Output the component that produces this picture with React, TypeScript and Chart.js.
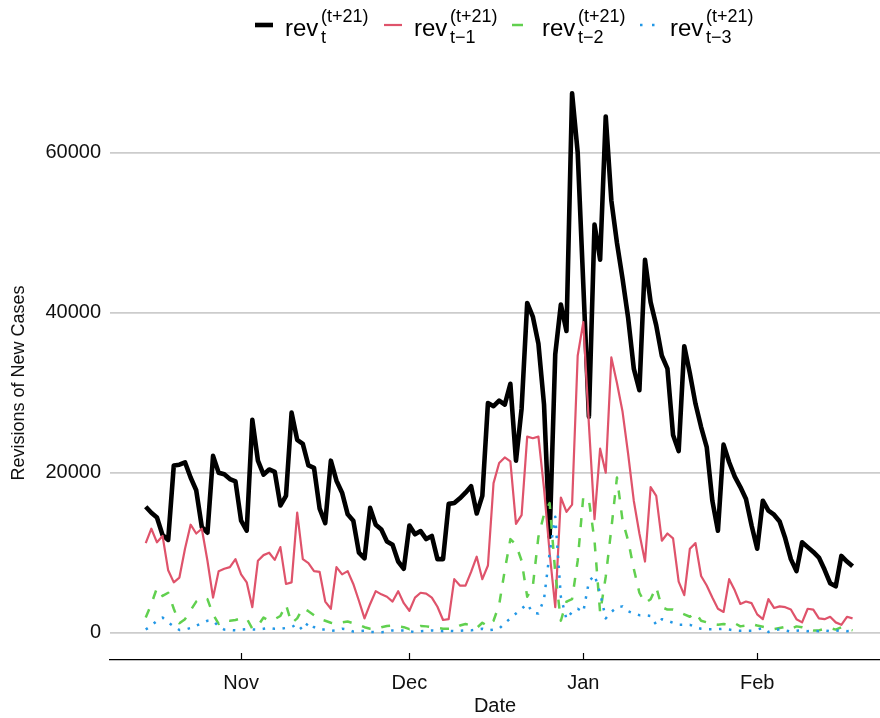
import React, { useEffect, useRef } from "react";
import { Chart, registerables } from "chart.js";

Chart.register(...registerables);

// ---- data -------------------------------------------------------------
const START_DATE = "2020-10-15"; // first daily observation
const MONTH_TICK_DATES = ["2020-11-01", "2020-12-01", "2021-01-01", "2021-02-01"];
const MONTH_TICK_LABELS = ["Nov", "Dec", "Jan", "Feb"];
const Y_TICKS = [0, 20000, 40000, 60000];

const revT = [
  15750, 15000, 14400, 12200, 11600, 20900, 21000, 21300, 19400, 17800,
  13200, 12500, 22100, 20000, 19800, 19200, 18900, 14000, 12750, 26600,
  21500, 19750, 20400, 20100, 15900, 17100, 27500, 24100, 23600, 20900,
  20600, 15500, 13700, 21500, 19000, 17500, 14800, 14000, 10000, 9300,
  15600, 13500, 12900, 11400, 11000, 8900, 8000, 13400, 12300, 12700,
  11700, 12100, 9200, 9200, 16100, 16200, 16800, 17500, 18300, 14900,
  17100, 28700, 28300, 29000, 28500, 31100, 21500, 28000, 41200, 39500,
  36100, 28500, 12000, 34800, 41000, 37700, 67400, 60000, 43500, 27000,
  51000, 46600, 64500, 54000, 48700, 44200, 39300, 33000, 30300, 46600,
  41300, 38400, 34600, 33000, 24700, 22700, 35800, 32400, 28600, 25700,
  23200, 16500, 12750, 23500, 21300, 19500, 18200, 16700, 13400, 10500,
  16500, 15250, 14750, 13900, 11800, 9200, 7700, 11300, 10700, 10100,
  9400, 7900, 6200, 5800, 9600, 8900, 8300,
];

const revT1 = [
  11200, 13000, 11300, 12100, 7800, 6300, 6900, 10500, 13500, 12400,
  13000, 9000, 4400, 7700, 8000, 8200, 9200, 7300, 6300, 3200,
  9000, 9700, 10000, 9100, 10700, 6100, 6300, 15000, 9200, 8700,
  7700, 7600, 3900, 3000, 8200, 7300, 7700, 6100, 4000, 1800,
  3600, 5200, 4800, 4500, 3900, 5200, 3700, 2750, 4400, 5000,
  4900, 4400, 3250, 1600, 1700, 6700, 5900, 5900, 7600, 9500,
  6700, 8400, 18700, 21200, 21900, 21400, 13600, 14700, 24500, 24300,
  24500, 18000, 10000, 3200, 16900, 15100, 16000, 34600, 38800, 26000,
  14200, 23000, 20000, 34400, 31200, 27600, 22300, 16500, 12400, 8900,
  18200, 17100, 11500, 12400, 11800, 6400, 4700, 10500, 11200, 7100,
  5900, 4400, 3000, 2600, 6700, 5300, 3600, 3900, 3700, 2300,
  1700, 4200, 3100, 3300, 3200, 2900, 1700, 1300, 3000, 2900,
  1800, 1700, 2000, 1300, 1000, 2000, 1800,
];

const revT2 = [
  1900, 3600, 5600, 4600, 5000, 3000, 1200, 1700, 2800, 3900,
  4400, 4200, 2300, 1100, 1600, 1500, 1600, 1800, 1800, 500,
  900, 1900, 1500, 1700, 2100, 3500, 1200, 1800, 3100, 2700,
  2200, 1700, 1500, 1250, 1100, 1300, 1400, 1200, 1000, 700,
  500, 450, 700, 850, 900, 800, 700, 450, 600, 850,
  800, 700, 600, 500, 500, 500, 900, 1100, 900, 600,
  1250, 800, 1500, 3500, 7800, 11700, 11000, 9000, 4500, 5800,
  12000, 14800, 16200, 7500, 1500, 3900, 4200, 9000, 17000, 16600,
  11500, 2500, 7000, 13000, 19400, 14000, 11500, 8000, 5000, 3700,
  4200, 5700, 3200, 2900, 2900, 2600, 2300, 2000, 2500, 1500,
  1300, 1100, 1000, 1100, 1000, 1200, 800, 900, 1100, 900,
  750, 600, 460, 600, 750, 500, 800, 700, 500, 300,
  300, 500, 600, 400, 700, 500, 300,
];

const revT3 = [
  400, 900, 1500, 1900, 1300, 800, 350, 400, 600, 900,
  1200, 1500, 1500, 800, 400, 350, 300, 400, 450, 400,
  400, 500, 600, 500, 500, 600, 700, 1100, 300, 1300,
  700, 400, 400, 250, 300, 500, 400, 150, 200, 250,
  100, 80, 80, 100, 300, 300, 300, 200, 80, 200,
  250, 300, 250, 200, 250, 200, 250, 300, 300, 400,
  500, 300, 400, 500, 1200, 1800, 2400, 3000, 3600, 2500,
  2400, 4200, 10000, 14500, 4500, 1700, 2600, 3000, 2600, 6400,
  7200, 5000, 1800, 2600, 3200, 3300, 2700, 2400, 2200, 2200,
  2100, 1000, 1700, 1500, 1250, 1000, 1000, 1000, 700, 500,
  450, 450, 450, 500, 400, 300, 250, 250, 250, 400,
  600, 100, 300, 450, 300, 150, 250, 300, 200, 250,
  200, 300, 200, 250, 300, 200, 250,
];

// ---- helpers ----------------------------------------------------------
const DAY_MS = 86400000;
const ORIGIN = Date.UTC(2020, 10, 1); // Nov 1 = 0
const dayOffset = (iso: string) => (Date.parse(iso + "T00:00:00Z") - ORIGIN) / DAY_MS;
const startOffset = dayOffset(START_DATE);
const monthOffsets = MONTH_TICK_DATES.map(dayOffset);
const toPoints = (arr: number[]) => arr.map((v, i) => ({ x: startOffset + i, y: v }));

const FONT = "'Liberation Sans', Arial, Helvetica, sans-serif";
const TEXT = "#111111";
const BLACK = "#000000";
const RED = "#DF536B";
const GREEN = "#61D04F";
const BLUE = "#2297E6";

const tickMarks = {
  id: "tickMarks",
  afterDatasetsDraw(chart: any) {
    const s = chart.scales.x;
    const ctx = chart.ctx;
    const b = chart.chartArea.bottom;
    ctx.save();
    ctx.strokeStyle = "#000";
    ctx.lineWidth = 1.2;
    s.ticks.forEach((t: any) => {
      const px = Math.round(s.getPixelForValue(t.value)) + 0.5;
      ctx.beginPath();
      ctx.moveTo(px, b);
      ctx.lineTo(px, b - 7);
      ctx.stroke();
    });
    ctx.restore();
  },
};

function LegendItem({ left, sub, swatch }: { left: number; sub: string; swatch: React.ReactNode }) {
  return (
    <>
      <svg style={{ position: "absolute", left: left - 30, top: 15 }} width={24} height={20}>
        {swatch}
      </svg>
      <span style={{ position: "absolute", left, top: 15.7, fontSize: 24, lineHeight: 1, whiteSpace: "nowrap" }}>rev</span>
      <span style={{ position: "absolute", left: left + 36, top: 7, fontSize: 18, lineHeight: 1, whiteSpace: "nowrap" }}>(t+21)</span>
      <span style={{ position: "absolute", left: left + 36, top: 27.5, fontSize: 18, lineHeight: 1, whiteSpace: "nowrap" }}>{sub}</span>
    </>
  );
}

export default function App() {
  const ref = useRef<HTMLCanvasElement | null>(null);

  useEffect(() => {
    if (!ref.current) return;
    const chart = new Chart(ref.current, {
      type: "line",
      data: {
        datasets: [
          { label: "rev t-3", data: toPoints(revT3), borderColor: BLUE, borderWidth: 2.5, borderDash: [2.5, 7.5], borderCapStyle: "butt" },
          { label: "rev t-2", data: toPoints(revT2), borderColor: GREEN, borderWidth: 2.5, borderDash: [9, 11], borderCapStyle: "butt" },
          { label: "rev t-1", data: toPoints(revT1), borderColor: RED, borderWidth: 2.2 },
          { label: "rev t", data: toPoints(revT), borderColor: BLACK, borderWidth: 4.6 },
        ] as any,
      },
      options: {
        responsive: false,
        animation: false,
        devicePixelRatio: 1,
        layout: { padding: { top: 66, left: 0, right: 0, bottom: 0 } },
        plugins: { legend: { display: false }, tooltip: { enabled: false } },
        elements: {
          point: { radius: 0 },
          line: { tension: 0, borderJoinStyle: "round", fill: false },
        },
        scales: {
          x: {
            type: "linear",
            min: -23.37,
            max: 113.89,
            afterBuildTicks: (s: any) => {
              s.ticks = monthOffsets.map((v) => ({ value: v }));
            },
            afterFit: (s: any) => {
              s.height = 58;
            },
            ticks: {
              autoSkip: false,
              maxRotation: 0,
              padding: 11,
              color: TEXT,
              font: { family: FONT, size: 20 },
              callback: (_v: any, i: number) => MONTH_TICK_LABELS[i],
            },
            grid: { display: false, drawTicks: false },
            border: { display: true, color: "#000", width: 1.2 },
            title: {
              display: true,
              text: "Date",
              color: TEXT,
              font: { family: FONT, size: 20 },
              padding: { top: 0, bottom: 0 },
            },
          },
          y: {
            type: "linear",
            min: -3400,
            max: 70800,
            afterBuildTicks: (s: any) => {
              s.ticks = Y_TICKS.map((v) => ({ value: v }));
            },
            afterFit: (s: any) => {
              s.width = 110;
            },
            ticks: {
              padding: 9,
              color: TEXT,
              font: { family: FONT, size: 20 },
              callback: (v: any) => String(v),
            },
            grid: { color: "#cccccc", lineWidth: 1.8, drawTicks: false },
            border: { display: false },
            title: { display: false },
          },
        },
      } as any,
      plugins: [tickMarks],
    });
    return () => chart.destroy();
  }, []);

  return (
    <div
      style={{
        position: "absolute",
        left: 0,
        top: 0,
        width: 880,
        height: 718,
        background: "#ffffff",
        fontFamily: FONT,
        color: "#000",
        overflow: "hidden",
      }}
    >
      <canvas ref={ref} width={880} height={718} style={{ position: "absolute", left: 0, top: 0, width: 880, height: 718 }} />
      <div
        style={{
          position: "absolute",
          left: 18 - 150,
          top: 383 - 9,
          width: 300,
          height: 18,
          lineHeight: "18px",
          fontSize: 18,
          textAlign: "center",
          color: TEXT,
          whiteSpace: "nowrap",
          transform: "rotate(-90deg)",
          transformOrigin: "50% 50%",
        }}
      >
        Revisions of New Cases
      </div>
      <LegendItem
        left={285}
        sub="t"
        swatch={<line x1={0} y1={10} x2={18} y2={10} stroke={BLACK} strokeWidth={4.6} />}
      />
      <LegendItem
        left={414}
        sub="t−1"
        swatch={<line x1={0} y1={10} x2={18} y2={10} stroke={RED} strokeWidth={2.2} />}
      />
      <LegendItem
        left={542}
        sub="t−2"
        swatch={<line x1={0} y1={10} x2={18} y2={10} stroke={GREEN} strokeWidth={2.5} strokeDasharray="11 11" />}
      />
      <LegendItem
        left={670}
        sub="t−3"
        swatch={<line x1={0} y1={10} x2={18} y2={10} stroke={BLUE} strokeWidth={2.5} strokeDasharray="2.5 9.5" />}
      />
    </div>
  );
}
